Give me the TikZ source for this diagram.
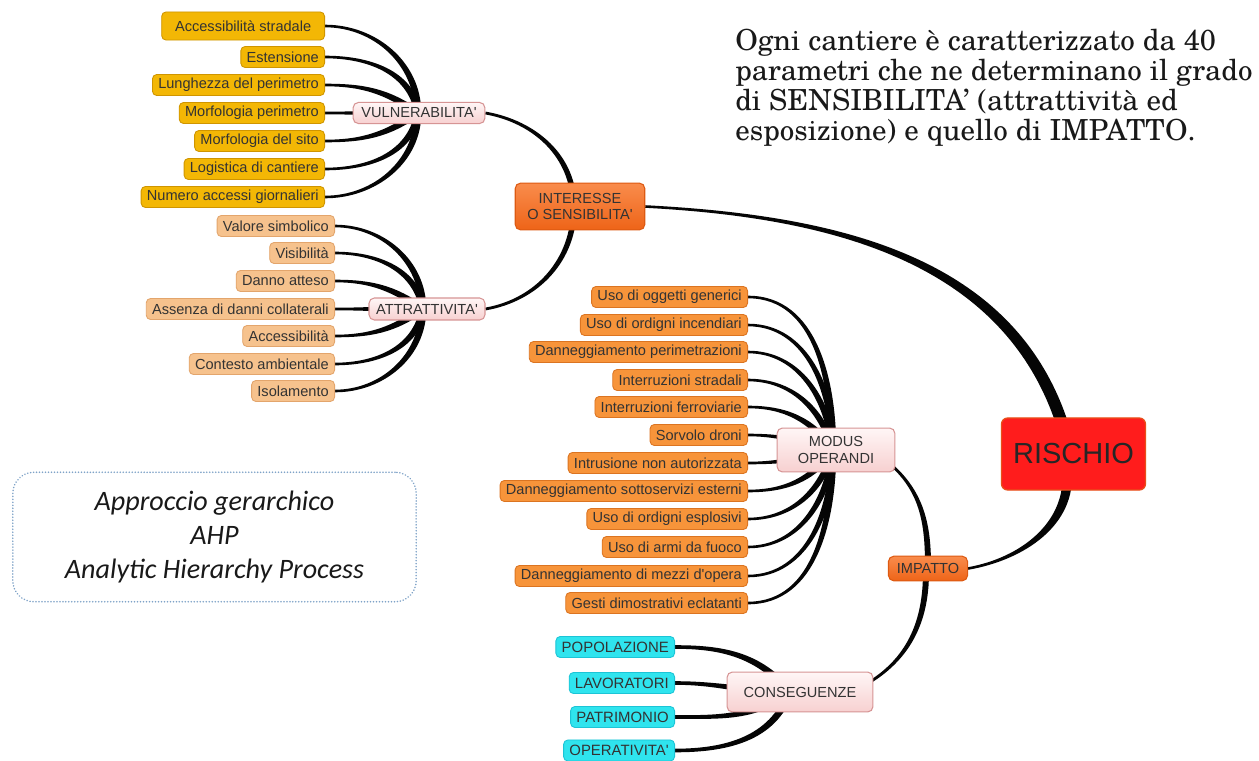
\documentclass[tikz,border=0pt]{standalone}
\usepackage{fontspec}
\newfontfamily\lab{Liberation Sans}
\newfontfamily\schola{texgyreschola-regular.otf}
\newfontfamily\carlito{Carlito}
\usetikzlibrary{calc,backgrounds}
\definecolor{txt}{HTML}{333333}
\definecolor{cvul}{HTML}{F3B705}
\definecolor{cvulb}{HTML}{CF9500}
\definecolor{catt}{HTML}{F6C28D}
\definecolor{cattb}{HTML}{E3A56C}
\definecolor{cmod}{HTML}{F7943A}
\definecolor{cmodb}{HTML}{DB7421}
\definecolor{ccon}{HTML}{2FE4EE}
\definecolor{cconb}{HTML}{1CC4D6}
\definecolor{chubt}{HTML}{FFF6F6}
\definecolor{chubbot}{HTML}{F7D0D0}
\definecolor{chubb}{HTML}{D69494}
\definecolor{corat}{HTML}{F98C4C}
\definecolor{corabot}{HTML}{EE6418}
\definecolor{corab}{HTML}{DD5A12}
\definecolor{crisk}{HTML}{FF1C1C}
\definecolor{criskb}{HTML}{E8501A}
\definecolor{cahp}{HTML}{7FA3C8}
\definecolor{cline}{HTML}{050505}
\newcommand\conn[6]{%
  \fill[cline] ($(#1)+(#3+90:#5)$) to[out=#3,in=#4] ($(#2)+(#4-90:#6)$)
    -- ($(#2)+(#4+90:#6)$) to[out=#4,in=#3] ($(#1)+(#3-90:#5)$) -- cycle;}
\tikzset{
  lbl/.style={rounded corners=2.5pt, draw, line width=0.5pt, inner xsep=3.3pt,
    inner ysep=0pt, minimum height=12pt, text=txt, anchor=east,
    font=\lab\fontsize{8.3}{9.5}\selectfont},
  vul/.style={lbl, fill=cvul, draw=cvulb},
  att/.style={lbl, fill=catt, draw=cattb},
  mod/.style={lbl, fill=cmod, draw=cmodb},
  con/.style={lbl, fill=ccon, draw=cconb, font=\lab\fontsize{8.5}{9.5}\selectfont},
  hub/.style={rounded corners=3pt, draw=chubb, top color=chubt, bottom color=chubbot,
    line width=0.6pt, inner sep=0pt, align=center, text=txt,
    font=\lab\fontsize{8.3}{9.2}\selectfont},
  ora/.style={rounded corners=3pt, draw=corab, top color=corat, bottom color=corabot,
    line width=0.6pt, inner sep=0pt, align=center, text=txt,
    font=\lab\fontsize{8.3}{9.4}\selectfont},
  risk/.style={rounded corners=3.5pt, draw=criskb, fill=crisk, line width=0.7pt,
    inner sep=0pt, text=black!85, font=\lab\fontsize{16.5}{18}\selectfont},
  note/.style={anchor=base west, inner sep=0pt, text=black!90,
    font=\schola\fontsize{16.5}{18}\selectfont},
}
\begin{document}
\begin{tikzpicture}[x=0.02cm,y=0.02cm]
\useasboundingbox (0,0) rectangle (1259,-761);
% ---- Vulnerabilita leaves
\node[vul, inner xsep=7.6pt, minimum height=16pt] (v1) at (325,-26) {Accessibilità stradale};
\node[vul] (v2) at (325,-57) {Estensione};
\node[vul] (v3) at (325,-85) {Lunghezza del perimetro};
\node[vul] (v4) at (325,-113) {Morfologia perimetro};
\node[vul] (v5) at (325,-141) {Morfologia del sito};
\node[vul] (v6) at (325,-169) {Logistica di cantiere};
\node[vul] (v7) at (325,-197) {Numero accessi giornalieri};
% ---- Attrattivita leaves
\node[att] (a1) at (335,-226) {Valore simbolico};
\node[att] (a2) at (335,-253) {Visibilità};
\node[att] (a3) at (335,-281) {Danno atteso};
\node[att] (a4) at (335,-309) {Assenza di danni collaterali};
\node[att] (a5) at (335,-336) {Accessibilità};
\node[att] (a6) at (335,-364) {Contesto ambientale};
\node[att] (a7) at (335,-391) {Isolamento};
% ---- Modus operandi leaves
\node[mod] (m1) at (748,-297) {Uso di oggetti generici};
\node[mod] (m2) at (748,-325) {Uso di ordigni incendiari};
\node[mod] (m3) at (748,-352) {Danneggiamento perimetrazioni};
\node[mod] (m4) at (748,-380) {Interruzioni stradali};
\node[mod] (m5) at (748,-407) {Interruzioni ferroviarie};
\node[mod] (m6) at (748,-435) {Sorvolo droni};
\node[mod] (m7) at (748,-463) {Intrusione non autorizzata};
\node[mod] (m8) at (748,-491) {Danneggiamento sottoservizi esterni};
\node[mod] (m9) at (748,-519) {Uso di ordigni esplosivi};
\node[mod] (m10) at (748,-547) {Uso di armi da fuoco};
\node[mod] (m11) at (748,-576) {Danneggiamento di mezzi d'opera};
\node[mod] (m12) at (748,-603) {Gesti dimostrativi eclatanti};
% ---- Conseguenze leaves
\node[con] (c1) at (675,-647) {POPOLAZIONE};
\node[con] (c2) at (675,-683) {LAVORATORI};
\node[con] (c3) at (675,-717) {PATRIMONIO};
\node[con] (c4) at (675,-750.5) {OPERATIVITA'};
% ---- hubs
\node[hub, minimum width=75pt, minimum height=12pt] (vul) at (419,-113) {VULNERABILITA'};
\node[hub, minimum width=66pt, minimum height=12.5pt] (att) at (427,-309) {ATTRATTIVITA'};
\node[ora, minimum width=73.7pt, minimum height=26.6pt] (int) at (580,-206.5) {INTERESSE\\O SENSIBILITA'};
\node[hub, minimum width=67pt, minimum height=25pt] (mo) at (836,-450) {MODUS\\OPERANDI};
\node[ora, minimum width=45pt, minimum height=14pt] (imp) at (928,-568.5) {IMPATTO};
\node[hub, minimum width=83pt, minimum height=22.7pt] (cons) at (800,-692) {CONSEGUENZE};
\node[risk, minimum width=82pt, minimum height=41pt] (ris) at (1073.5,-454) {RISCHIO};
% ---- hub points
\coordinate (vh) at (418,-113);
\coordinate (ah) at (423,-309);
\coordinate (mh) at (833,-450);
\coordinate (ch) at (790,-692);
\coordinate (ic) at (574,-207);
\coordinate (rt) at (1067,-440);
\coordinate (rb) at (1067,-470);
\coordinate (imt) at (928,-565);
\coordinate (imb) at (926,-572);
\coordinate (mox) at (888,-462);
\coordinate (cox) at (865,-685);
% ---- AHP box
\node[draw=cahp, line width=0.9pt, dash pattern=on 0.1pt off 1.6pt, line cap=round,
  rounded corners=12pt, minimum width=229.6pt, minimum height=73.7pt, inner sep=0pt,
  align=center, text=black!90, font=\carlito\itshape\fontsize{16}{19.5}\selectfont]
  (ahp) at (214.5,-537) {Approccio gerarchico\\AHP\\Analytic Hierarchy Process};
% ---- note text
\node[note] (t1) at (735,-50) {Ogni cantiere è caratterizzato da 40};
\node[note] (t2) at (735,-80) {parametri che ne determinano il grado};
\node[note] (t3) at (735,-110) {di SENSIBILITA’ (attrattività ed};
\node[note] (t4) at (735,-140) {esposizione) e quello di IMPATTO.};
% ---- connectors
\begin{scope}[on background layer]
\fill[white] (0,0) rectangle (1259,-761);
\conn{v1.east}{vh}{0}{90}{1.3}{3.3}
\conn{v2.east}{vh}{0}{100}{1.3}{3.3}
\conn{v3.east}{vh}{0}{145}{1.3}{3.3}
\conn{v4.east}{vh}{0}{180}{1.3}{3.3}
\conn{v5.east}{vh}{0}{215}{1.3}{3.3}
\conn{v6.east}{vh}{0}{260}{1.3}{3.3}
\conn{v7.east}{vh}{0}{270}{1.3}{3.3}
\conn{a1.east}{ah}{0}{90}{1.3}{3.3}
\conn{a2.east}{ah}{0}{100}{1.3}{3.3}
\conn{a3.east}{ah}{0}{145}{1.3}{3.3}
\conn{a4.east}{ah}{0}{180}{1.3}{3.3}
\conn{a5.east}{ah}{0}{215}{1.3}{3.3}
\conn{a6.east}{ah}{0}{260}{1.3}{3.3}
\conn{a7.east}{ah}{0}{270}{1.3}{3.3}
\conn{m1.east}{mh}{0}{90}{1.3}{3.3}
\conn{m2.east}{mh}{0}{90}{1.3}{3.3}
\conn{m3.east}{mh}{0}{95}{1.3}{3.3}
\conn{m4.east}{mh}{0}{105}{1.3}{3.3}
\conn{m5.east}{mh}{0}{125}{1.3}{3.3}
\conn{m6.east}{mh}{0}{165}{1.3}{3.3}
\conn{m7.east}{mh}{0}{195}{1.3}{3.3}
\conn{m8.east}{mh}{0}{235}{1.3}{3.3}
\conn{m9.east}{mh}{0}{255}{1.3}{3.3}
\conn{m10.east}{mh}{0}{265}{1.3}{3.3}
\conn{m11.east}{mh}{0}{270}{1.3}{3.3}
\conn{m12.east}{mh}{0}{270}{1.3}{3.3}
\conn{c1.east}{ch}{0}{130}{1.8}{3.4}
\conn{c2.east}{ch}{0}{180}{1.8}{3.4}
\conn{c3.east}{ch}{0}{215}{1.8}{3.4}
\conn{c4.east}{ch}{0}{250}{1.8}{3.4}
\conn{vul.east}{ic}{-10}{90}{1.4}{2.8}
\conn{att.east}{ic}{10}{-90}{1.4}{2.8}
\conn{int.east}{rt}{-3}{105}{1.3}{6}
\conn{imp.east}{rb}{10}{-85}{1.3}{4.8}
\conn{mox}{imt}{-40}{90}{1.4}{3}
\conn{cox}{imb}{30}{-90}{1.4}{3}
\end{scope}
\end{tikzpicture}
\end{document}
